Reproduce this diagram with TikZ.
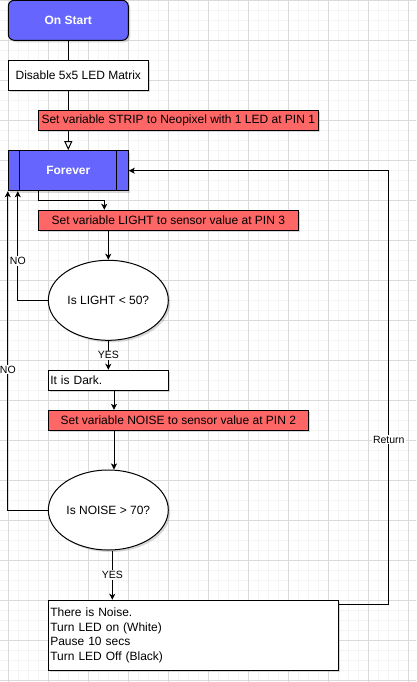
\documentclass[tikz,border=0pt]{standalone}
\usepackage{fontspec}
\setmainfont{Liberation Sans}
\usetikzlibrary{arrows.meta, shapes.geometric, shadows}
\definecolor{startblue}{RGB}{102, 102, 255}
\definecolor{setred}{RGB}{255, 102, 102}
\definecolor{gridmajor}{RGB}{218, 218, 218}
\definecolor{gridminor}{RGB}{244, 244, 244}

\tikzset{
  boxbase/.style={draw=black, line width=1pt, inner sep=0pt,
    font=\fontsize{12}{14.5}\selectfont,
    drop shadow={shadow xshift=2pt, shadow yshift=-2pt, fill=black!60, opacity=0.25}},
  bluebox/.style={boxbase, fill=startblue, text=white,
    font=\fontsize{12}{14.5}\selectfont\bfseries, minimum width=120pt, minimum height=40pt},
  redbox/.style={boxbase, fill=setred, minimum height=20pt},
  plainbox/.style={boxbase, fill=white},
  decision/.style={boxbase, ellipse, fill=white, minimum width=120pt, minimum height=80pt},
  flow/.style={line width=1pt, -{Stealth[length=6pt, width=6pt, inset=1.5pt]}},
  flowlabel/.style={fill=white, inner sep=1pt, font=\fontsize{10.5}{12}\selectfont}
}

\begin{document}
\begin{tikzpicture}[x=1pt, y=-1pt]
  \useasboundingbox (0, 0) rectangle (416, 682);
  \fill[white] (0, 0) rectangle (416, 682);

  % Grid
  \foreach \gx in {-1.7, 8.3, ..., 416}
    \draw[gridminor, line width=0.6pt] (\gx, 0) -- (\gx, 682);
  \foreach \gy in {0, 10, ..., 682}
    \draw[gridminor, line width=0.6pt] (0, \gy) -- (416, \gy);
  \foreach \gx in {8.3, 48.3, ..., 416}
    \draw[gridmajor, line width=0.6pt] (\gx, 0) -- (\gx, 682);
  \foreach \gy in {0, 40, ..., 682}
    \draw[gridmajor, line width=0.6pt] (0, \gy) -- (416, \gy);

  % Blocks
  \node[bluebox, rounded corners=6pt] (start) at (68.3, 20.3) {On Start};
  \node[plainbox, minimum width=140pt, minimum height=30pt] (disable) at (78.3, 75.3) {Disable 5x5 LED Matrix};
  \node[bluebox] (forever) at (68.3, 170.7) {Forever};
  \draw[line width=1pt] ([xshift=12pt]forever.north west) -- ([xshift=12pt]forever.south west);
  \draw[line width=1pt] ([xshift=-12pt]forever.north east) -- ([xshift=-12pt]forever.south east);

  % Line down to Forever, partly hidden behind the STRIP block
  \draw[line width=1pt] (start.south) -- (start.south |- disable.north);
  \draw[line width=1pt, -{Triangle[open, length=9pt, width=8pt]}] (forever.north |- disable.south) -- (forever.north);
  \node[redbox, minimum width=280pt] (strip) at (178.3, 120.3) {Set variable STRIP to Neopixel with 1 LED at PIN 1};

  \node[redbox, minimum width=260pt] (light) at (168.3, 220.3) {Set variable LIGHT to sensor value at PIN 3};
  \node[decision] (q1) at (108.3, 300.3) {Is LIGHT < 50?};
  \node[plainbox, minimum height=20pt, text width=116pt, inner xsep=2pt, align=left] (dark) at (108.3, 380.3) {It is Dark.};
  \node[redbox, minimum width=260pt] (noise) at (178.3, 420.3) {Set variable NOISE to sensor value at PIN 2};
  \node[decision] (q2) at (108.3, 510) {Is NOISE > 70?};
  \node[plainbox, minimum height=70pt, text width=286pt, inner xsep=2pt, align=left] (final) at (193.3, 635.3)
    {There is Noise.\\Turn LED on (White)\\Pause 10 secs\\Turn LED Off (Black)};

  % Connectors
  \draw[flow] ([xshift=-30pt]forever.south) -- ++(0, 9.3) -| ([xshift=-64pt]light.north);
  \draw[flow] (q1.north |- light.south) -- (q1.north);
  \draw[flow] (q1.west) -| ([xshift=10pt]forever.south west) node[flowlabel, pos=0.68] {NO};
  \draw[flow] (q1.south) -- (dark.north) node[flowlabel, midway] {YES};
  \draw[flow] ([xshift=5.7pt]dark.south) -- ([xshift=5.7pt]dark.south |- noise.north);
  \draw[flow] ([xshift=5.7pt]q2.north |- noise.south) -- ([xshift=5.7pt]q2.north);
  \draw[flow] (q2.west) -| (forever.south west) node[flowlabel, pos=0.72] {NO};
  \draw[flow] ([xshift=4pt]q2.south) -- ([xshift=4pt]q2.south |- final.north) node[flowlabel, midway] {YES};
  \draw[flow] ([yshift=-4.7pt]final.north east) -- ++(50, 0) |- (forever.east) node[flowlabel, pos=0.19] {Return};
\end{tikzpicture}
\end{document}
